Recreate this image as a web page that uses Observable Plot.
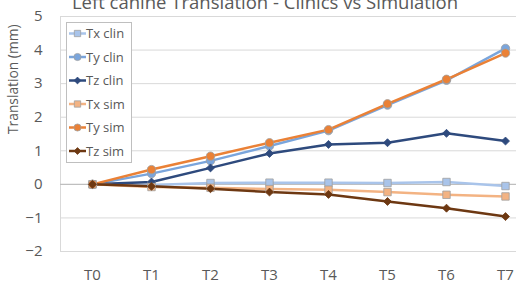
<!DOCTYPE html>
<html>
<head>
<meta charset="utf-8">
<script src="https://cdn.jsdelivr.net/npm/d3@7"></script>
<script src="https://cdn.jsdelivr.net/npm/@observablehq/plot@0.6"></script>
<style>
  html, body { margin: 0; padding: 0; background: #fff; overflow: hidden; }
  body { width: 516px; height: 284px; position: relative; font-family: "Open Sans", sans-serif; }
  #title { position: absolute; left: 0; width: 530px; top: -7px; text-align: center; font-size: 18.5px; line-height: 18.5px; color: #595959; white-space: nowrap; }
  #chart { position: absolute; left: 0; top: 0; width: 536px; }
  #chart svg { max-width: none !important; }
  #legend { position: absolute; left: 66px; top: 22px; }
</style>
</head>
<body>
<div id="chart"></div>
<div id="title">Left canine Translation - Clinics vs Simulation</div>
<div id="legend"></div>
<script>
const categories = ["T0", "T1", "T2", "T3", "T4", "T5", "T6", "T7"];
const txClin = [0, -0.02, 0.04, 0.05, 0.05, 0.04, 0.07, -0.05];
const tyClin = [0, 0.32, 0.70, 1.14, 1.60, 2.36, 3.10, 4.05];
const tzClin = [0, 0.07, 0.49, 0.92, 1.19, 1.24, 1.52, 1.29];
const txSim  = [0, -0.08, -0.10, -0.14, -0.16, -0.23, -0.31, -0.36];
const tySim  = [0, 0.44, 0.84, 1.24, 1.63, 2.40, 3.13, 3.91];
const tzSim  = [0, -0.06, -0.13, -0.23, -0.30, -0.51, -0.71, -0.96];
const seriesNames = ["Tx clin", "Ty clin", "Tz clin", "Tx sim", "Ty sim", "Tz sim"];
const yTicks = [-2, -1, 0, 1, 2, 3, 4, 5];

const seriesValues = [txClin, tyClin, tzClin, txSim, tySim, tzSim];
const styles = [
  {color: "#a9c4ea", symbol: "square", r: 4.2, stroke: "#a0a0a0"},
  {color: "#7aa5dc", symbol: "circle", r: 4.2, stroke: "#a0a0a0"},
  {color: "#2e4a7d", symbol: "diamond2", r: 3.6, stroke: "#2e4a7d"},
  {color: "#f3b383", symbol: "square", r: 4.2, stroke: "#a0a0a0"},
  {color: "#ea8136", symbol: "circle", r: 4.2, stroke: "#a0a0a0"},
  {color: "#6d3812", symbol: "diamond2", r: 3.6, stroke: "#6d3812"}
];

const series = seriesNames.map((name, i) => ({
  name, style: styles[i],
  rows: categories.map((c, j) => ({x: c, y: seriesValues[i][j]}))
}));

const marks = [
  Plot.ruleY(yTicks.filter(d => d !== 0), {stroke: "#d9d9d9", strokeWidth: 1}),
  Plot.frame({stroke: "#d9d9d9"}),
  Plot.ruleY([0], {stroke: "#bfbfbf", strokeWidth: 1.2}),
  Plot.axisY(yTicks, {tickSize: 0, tickPadding: 18, fontSize: 15, fill: "#595959", label: null}),
  Plot.axisX(categories, {tickSize: 0, tickPadding: 18, fontSize: 15, fill: "#595959", label: null}),
  Plot.text(["Translation (mm)"], {frameAnchor: "left", dx: -47, dy: 0, rotate: -90, fontSize: 13.8, fill: "#595959"})
];
for (const s of series) {
  marks.push(Plot.line(s.rows, {x: "x", y: "y", stroke: s.style.color, strokeWidth: 2.5}));
}
for (const s of series) {
  marks.push(Plot.dot(s.rows, {x: "x", y: "y", symbol: () => s.style.symbol, r: s.style.r, fill: s.style.color, stroke: s.style.stroke, strokeWidth: 0.8}));
}

const chart = Plot.plot({
  width: 536, height: 284,
  marginLeft: 60, marginRight: 0, marginTop: 16, marginBottom: 33,
  style: {fontFamily: "Open Sans", background: "transparent", maxWidth: "none"},
  x: {type: "point", domain: categories, padding: 0.5, align: 0.5},
  y: {domain: [-2, 5]},
  symbol: {type: "identity"},
  marks
});
document.getElementById("chart").appendChild(chart);

// Legend
const lg = d3.select("#legend").append("svg").attr("width", 66).attr("height", 142);
lg.append("rect").attr("x", 0.5).attr("y", 0.5).attr("width", 65).attr("height", 140)
  .attr("fill", "#fff").attr("stroke", "#bfbfbf");
const symMap = {square: d3.symbolSquare, circle: d3.symbolCircle, diamond2: d3.symbolDiamond2};
series.forEach((s, i) => {
  const cy = 11.5 + i * 23.5;
  const g = lg.append("g");
  g.append("line").attr("x1", 3).attr("x2", 20).attr("y1", cy).attr("y2", cy)
    .attr("stroke", s.style.color).attr("stroke-width", 2.5);
  g.append("path").attr("transform", `translate(11.5,${cy})`)
    .attr("d", d3.symbol(symMap[s.style.symbol], Math.PI * (s.style.r * 0.85) ** 2)())
    .attr("fill", s.style.color).attr("stroke", s.style.stroke).attr("stroke-width", 0.8);
  g.append("text").attr("x", 20).attr("y", cy).attr("dy", "0.35em")
    .attr("font-size", 13).attr("fill", "#595959").attr("font-family", "Open Sans")
    .text(s.name);
});
</script>
</body>
</html>
